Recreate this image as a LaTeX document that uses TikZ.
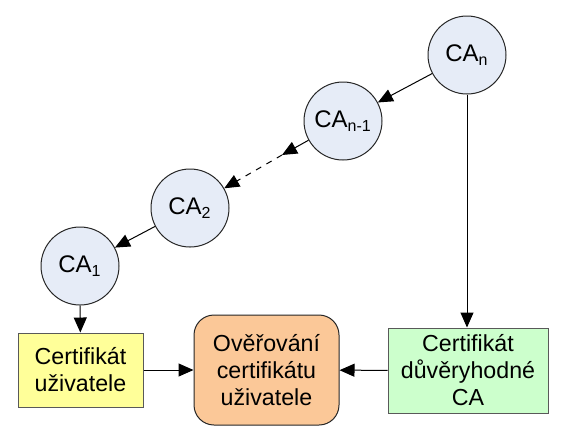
\documentclass[tikz,border=0pt]{standalone}
\usepackage{fontspec}
\setmainfont{Liberation Sans}
\usepackage{tikz}
\usetikzlibrary{arrows.meta}
\definecolor{cafill}{HTML}{E6ECF7}
\definecolor{userfill}{HTML}{FFFF99}
\definecolor{checkfill}{HTML}{FBC898}
\definecolor{trustfill}{HTML}{CCFFCC}

\begin{document}
\begin{tikzpicture}
[->,>={Triangle[length=7.5pt,width=6.5pt]},shorten >=0pt,x=0.5pt,y=-0.5pt,line width=0.5pt,
ca node/.style={circle,draw=black!85,fill=cafill,minimum size=39pt,inner sep=0pt,font={\fontsize{12}{14}\selectfont}},
block/.style   ={rectangle, draw=black!65, text centered, align=center, inner sep=1pt, font={\fontsize{11.6}{13.5}\selectfont}}]
    \useasboundingbox (0,0) rectangle (561,441);
    \node[ca node] (CAn) at (467,55) {CA\textsubscript{n}};
    \node[ca node] (CAn1) at (343,121) {CA\textsubscript{n-1}};
    \node[ca node] (CA2) at (190,208) {CA\textsubscript{2}};
    \node[ca node] (CA1) at (80,266) {CA\textsubscript{1}};
    \coordinate (gap) at (282,155);
    \node[block,fill=userfill,minimum width=62.5pt,minimum height=37pt] (user) at (80.5,370) {Certifikát\\uživatele};
    \node[block,fill=checkfill,draw=black!85,rounded corners=10pt,minimum width=72.5pt,minimum height=55pt] (check) at (266.5,370) {Ověřování\\certifikátu\\uživatele};
    \node[block,fill=trustfill,minimum width=80pt,minimum height=42.5pt] (trust) at (468,370.5) {Certifikát\\důvěryhodné\\CA};
    \path [->](CAn) edge (CAn1);
    \path [->](CAn1) edge (gap);
    \path [->,dashed](gap) edge (CA2);
    \path [->](CA2) edge (CA1);
    \path [->](CA1) edge (user);
    \path [->](CAn) edge (CAn |- trust.north);
    \path [->](user) edge (check);
    \path [->](trust) edge (check);
\end{tikzpicture}
\end{document}
